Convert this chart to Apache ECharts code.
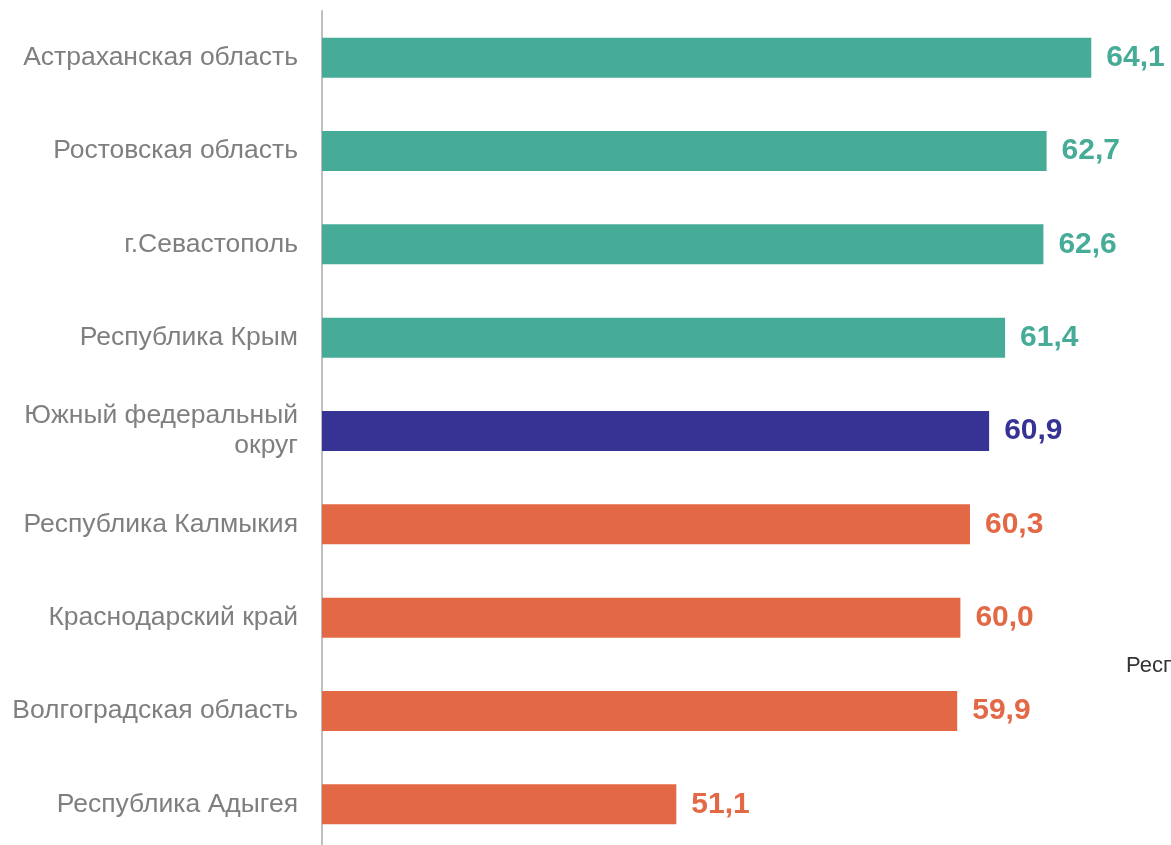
<!DOCTYPE html>
<html>
<head>
<meta charset="utf-8">
<script src="https://cdn.jsdelivr.net/npm/echarts@6/dist/echarts.min.js"></script>
<style>html,body{margin:0;padding:0;background:#fff;}#c{width:1171px;height:845px;}</style>
</head>
<body>
<div id="c"></div>
<script>
var categories = ["Астраханская область","Ростовская область","г.Севастополь","Республика Крым","Южный федеральный\nокруг","Республика Калмыкия","Краснодарский край","Волгоградская область","Республика Адыгея"];
var values = [64.1, 62.7, 62.6, 61.4, 60.9, 60.3, 60.0, 59.9, 51.1];
var groups = ["high","high","high","high","district","low","low","low","low"];
var groupColors = {high: "#46AB97", district: "#373394", low: "#E36846"};

var chart = echarts.init(document.getElementById('c'));
chart.setOption({
  animation: false,
  grid: {left: 322, right: 51, top: 11, bottom: -6, outerBoundsMode: 'none', containLabel: false},
  xAxis: {type: 'value', min: 40, max: 65, show: false},
  yAxis: {
    type: 'category', data: categories, inverse: true,
    axisLine: {show: true, lineStyle: {color: '#BFBFBF', width: 2}},
    axisTick: {show: false},
    axisLabel: {color: '#7F7F7F', fontSize: 26.5, fontFamily: 'Liberation Sans, Arial', margin: 24, lineHeight: 30, align: 'right'}
  },
  series: [{
    type: 'bar', barWidth: 40,
    data: values.map(function(v, i){ return {value: v, itemStyle: {color: groupColors[groups[i]]}, label: {color: groupColors[groups[i]]}}; }),
    label: {show: true, position: 'right', distance: 15, fontSize: 30, fontWeight: 'bold', fontFamily: 'Liberation Sans, Arial',
      formatter: function(p){ return p.value.toFixed(1).replace('.', ','); }}
  }],
  graphic: [{type: 'text', left: 1126, top: 655, style: {text: 'Республика', fontSize: 22, fill: '#333333', fontFamily: 'Liberation Sans, Arial'}}]
});
</script>
</body>
</html>
